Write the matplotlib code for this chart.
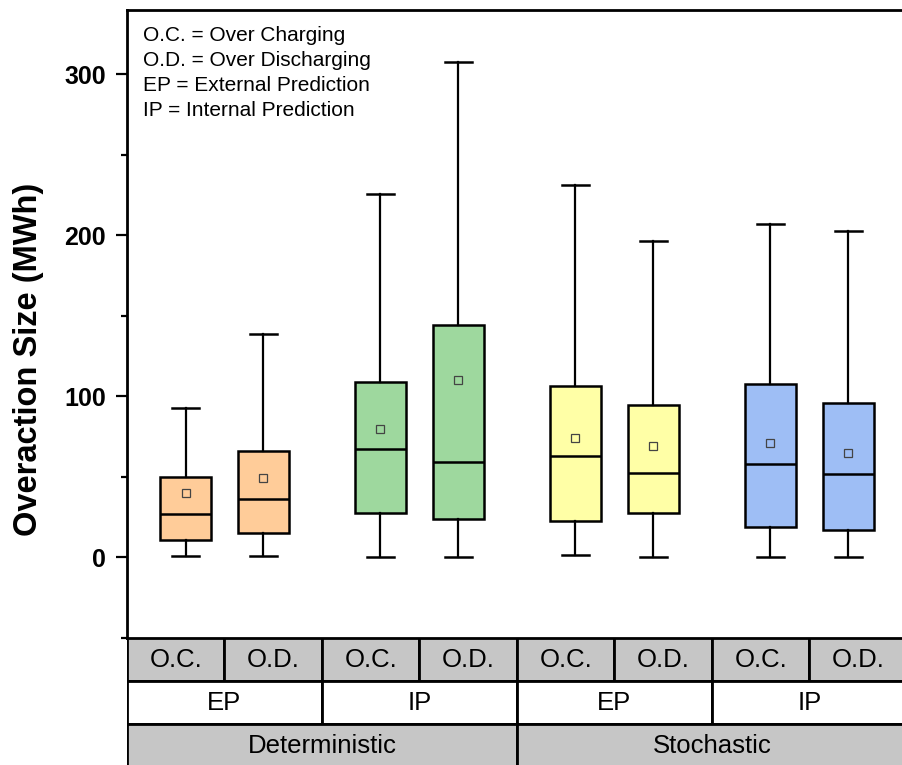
import numpy as np
import matplotlib
matplotlib.use("Agg")
import matplotlib.pyplot as plt
from matplotlib.patches import Rectangle
from matplotlib.ticker import MultipleLocator

plt.rcParams['font.family'] = ['Liberation Sans', 'DejaVu Sans']

# box statistics (MWh)
labels = ["O.C.", "O.D.", "O.C.", "O.D.", "O.C.", "O.D.", "O.C.", "O.D."]
whisker_low = [0.9, 0.9, 0.5, 0.0, 1.5, 0.1, 0.0, 0.1]
q1 = [10.8, 15.0, 27.4, 23.9, 22.6, 27.4, 18.7, 17.0]
median = [26.8, 36.3, 67.1, 59.0, 63.1, 52.6, 58.0, 51.8]
q3 = [50.1, 66.2, 108.8, 144.5, 106.3, 95.0, 108.0, 96.0]
whisker_high = [92.9, 138.7, 225.7, 308.0, 231.1, 196.4, 207.1, 202.8]
means = [39.8, 49.5, 79.8, 110.0, 74.5, 69.1, 71.4, 65.0]

predictions = ["EP", "IP", "EP", "IP"]
methods = ["Deterministic", "Stochastic"]

colors = ["#FFCC99", "#FFCC99", "#9ED89E", "#9ED89E",
          "#FFFFA6", "#FFFFA6", "#9EBEF5", "#9EBEF5"]
legend_text = ("O.C. = Over Charging\nO.D. = Over Discharging\n"
               "EP = External Prediction\nIP = Internal Prediction")


def main():
    fig = plt.figure(figsize=(9.03, 7.65), dpi=100)
    left, width = 127 / 903, 780 / 903
    bottom = 127 / 765
    ax = fig.add_axes([left, bottom, width, 628 / 765])

    # positions: groups at 1..4, boxes offset by 0.2
    groups = np.arange(1, 5)
    positions = np.ravel([[g - 0.2, g + 0.2] for g in groups])

    stats = []
    for i in range(len(labels)):
        stats.append(dict(whislo=whisker_low[i], q1=q1[i], med=median[i],
                          q3=q3[i], whishi=whisker_high[i], mean=means[i],
                          fliers=[]))

    lw = 1.8
    bp = ax.bxp(stats, positions=positions, widths=0.26, capwidths=0.14,
                patch_artist=True, showmeans=True,
                boxprops=dict(linewidth=lw, edgecolor='black'),
                medianprops=dict(color='black', linewidth=lw),
                whiskerprops=dict(color='black', linewidth=1.6),
                capprops=dict(color='black', linewidth=1.8),
                meanprops=dict(marker='s', markersize=6,
                               markerfacecolor='none',
                               markeredgecolor='#444444',
                               markeredgewidth=0.9))
    for patch, c in zip(bp['boxes'], colors):
        patch.set_facecolor(c)

    ax.set_xlim(0.5, 4.5)
    ax.set_ylim(-50, 340)
    ax.set_xticks([])
    ax.yaxis.set_major_locator(MultipleLocator(100))
    ax.yaxis.set_minor_locator(MultipleLocator(50))
    ax.tick_params(axis='y', which='major', length=8, width=1.6, pad=7,
                   labelsize=18)
    ax.tick_params(axis='y', which='minor', length=4.5, width=1.6)
    for lab in ax.get_yticklabels():
        lab.set_fontweight('bold')
    for s in ax.spines.values():
        s.set_linewidth(2)

    ax.text(0.02, 0.974, legend_text, transform=ax.transAxes, va='top',
            ha='left', fontsize=15, linespacing=1.39)

    fig.text(29 / 903, 1 - 359 / 765, "Overaction Size (MWh)", rotation=90,
             ha='center', va='center', fontsize=23.5, fontweight='bold')

    # category table below the axes
    tab = fig.add_axes([left, 0, width, bottom])
    tab.set_xlim(0.5, 4.5)
    tab.set_ylim(0.06, 3)
    tab.axis('off')
    gray = "#C6C6C6"
    rows = [(labels, 0.5, 2, gray), (predictions, 1.0, 1, 'white'),
            (methods, 2.0, 0, gray)]
    for texts, w, y0, fc in rows:
        for j, t in enumerate(texts):
            x0 = 0.5 + j * w
            tab.add_patch(Rectangle((x0, y0), w, 1, facecolor=fc,
                                    edgecolor='black', linewidth=2))
            tab.text(x0 + w / 2, y0 + 0.5, t, ha='center', va='center',
                     fontsize=18.5)

    fig.savefig("out.png", dpi=100)


if __name__ == "__main__":
    main()
